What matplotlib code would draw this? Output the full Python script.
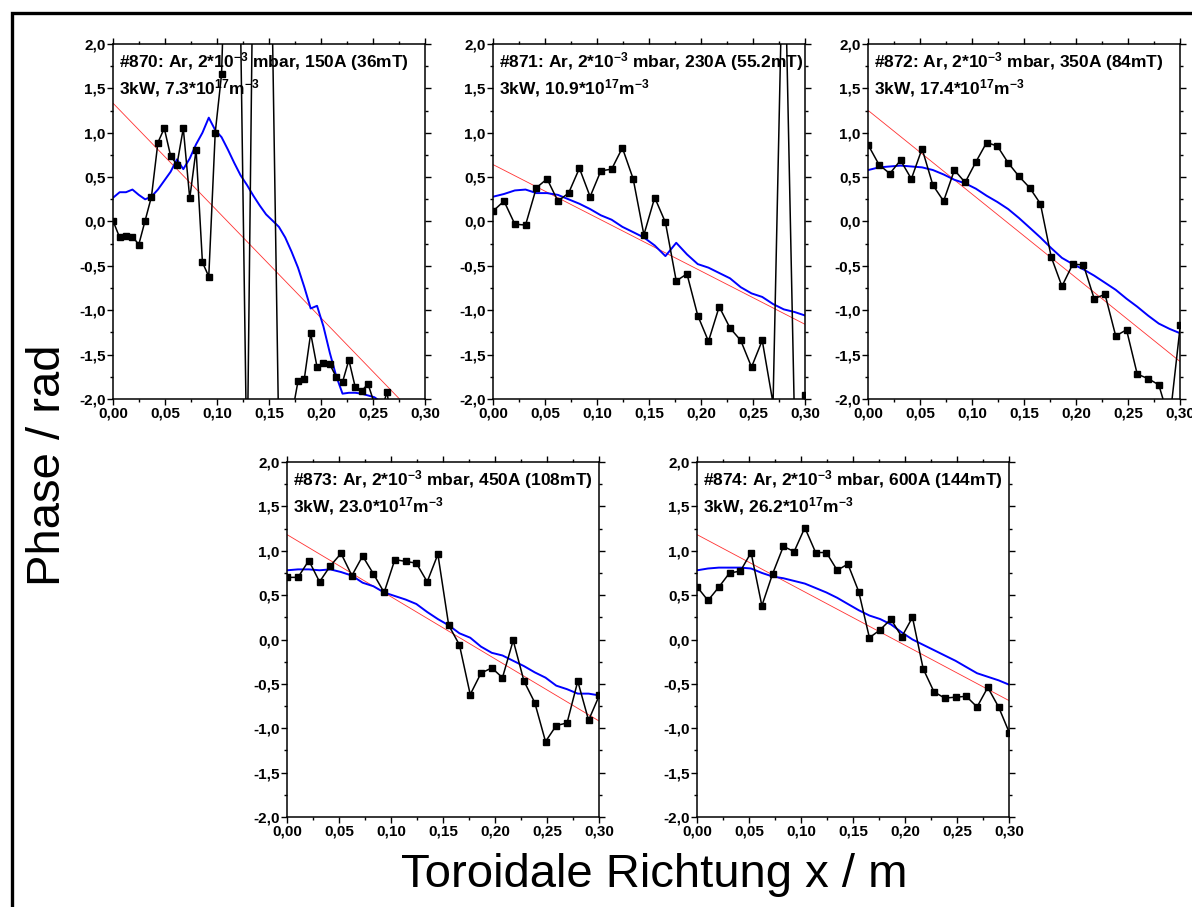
import matplotlib
matplotlib.use("Agg")
import matplotlib.pyplot as plt
from matplotlib.patches import Rectangle
from matplotlib.ticker import MultipleLocator, FuncFormatter

plt.rcParams['font.family'] = ['Liberation Sans', 'DejaVu Sans']
plt.rcParams['mathtext.fontset'] = 'custom'
plt.rcParams['mathtext.rm'] = 'Liberation Sans:bold'
plt.rcParams['mathtext.it'] = 'Liberation Sans:bold'
plt.rcParams['mathtext.bf'] = 'Liberation Sans:bold'

# x positions of the measurement channels
x30 = [0.0, 0.0103, 0.0207, 0.0310, 0.0414, 0.0517, 0.0621, 0.0724, 0.0828, 0.0931,
       0.1034, 0.1138, 0.1241, 0.1345, 0.1448, 0.1552, 0.1655, 0.1759, 0.1862, 0.1966,
       0.2069, 0.2172, 0.2276, 0.2379, 0.2483, 0.2586, 0.2690, 0.2793, 0.2897, 0.3000]
x50 = [0.0, 0.0061, 0.0122, 0.0184, 0.0245, 0.0306, 0.0367, 0.0429, 0.0490, 0.0551,
       0.0612, 0.0673, 0.0735, 0.0796, 0.0857, 0.0918, 0.0980, 0.1041, 0.1102, 0.1163,
       0.1224, 0.1286, 0.1347, 0.1408, 0.1469, 0.1531, 0.1592, 0.1653, 0.1714, 0.1776,
       0.1837, 0.1898, 0.1959, 0.2020, 0.2082, 0.2143, 0.2204, 0.2265, 0.2327, 0.2388,
       0.2449, 0.2510, 0.2571, 0.2633, 0.2694, 0.2755, 0.2816, 0.2878, 0.2939, 0.3000]

# shot 870 (50 channels)
phase_870 = [0.00, -0.18, -0.16, -0.17, -0.26, 0.01, 0.28, 0.89, 1.05, 0.74,
             0.64, 1.05, 0.26, 0.81, -0.46, -0.62, 1.00, 1.66, 4.00, 3.50,
             2.20, -2.90, 3.40, 3.00, 2.60, 2.10, -2.50, -3.00, -2.20, -1.80,
             -1.77, -1.26, -1.64, -1.59, -1.61, -1.75, -1.81, -1.56, -1.87, -1.91,
             -1.83, -2.05, -2.15, -1.92, -2.50, -2.60, -2.45, -2.70, -2.55, -2.65]
smooth_870 = [0.27, 0.33, 0.33, 0.36, 0.30, 0.25, 0.28, 0.36, 0.46, 0.56,
              0.70, 0.59, 0.71, 0.87, 1.00, 1.17, 1.03, 0.95, 0.81, 0.66,
              0.52, 0.41, 0.29, 0.18, 0.08, 0.01, -0.06, -0.18, -0.34, -0.52,
              -0.74, -0.98, -0.95, -1.18, -1.48, -1.74, -1.94, -1.93, -1.93, -1.94,
              -1.96, -1.98, -2.03, -2.08, -2.14, -2.20, -2.26, -2.32, -2.38, -2.44]
fit_870 = [1.33, -2.30]

phase_871 = [0.12, 0.23, -0.03, -0.04, 0.38, 0.48, 0.23, 0.32, 0.60, 0.28,
             0.57, 0.59, 0.83, 0.48, -0.15, 0.27, -0.01, -0.67, -0.59, -1.06,
             -1.35, -0.96, -1.20, -1.34, -1.64, -1.34, -2.05, 3.60, -2.30, -1.95]
smooth_871 = [0.28, 0.31, 0.35, 0.36, 0.32, 0.32, 0.30, 0.25, 0.20, 0.14,
              0.07, 0.02, -0.06, -0.12, -0.18, -0.27, -0.39, -0.24, -0.37, -0.48,
              -0.52, -0.58, -0.64, -0.74, -0.81, -0.85, -0.93, -0.99, -1.02, -1.06]
fit_871 = [0.64, -1.16]

phase_872 = [0.86, 0.64, 0.54, 0.69, 0.48, 0.82, 0.41, 0.23, 0.58, 0.44,
             0.67, 0.89, 0.85, 0.66, 0.51, 0.38, 0.20, -0.40, -0.73, -0.48,
             -0.49, -0.87, -0.82, -1.29, -1.22, -1.72, -1.77, -1.84, -2.25, -1.17]
smooth_872 = [0.58, 0.61, 0.62, 0.63, 0.62, 0.61, 0.58, 0.53, 0.47, 0.43,
              0.37, 0.29, 0.22, 0.14, 0.04, -0.07, -0.18, -0.30, -0.41, -0.48,
              -0.54, -0.61, -0.69, -0.77, -0.87, -0.96, -1.06, -1.15, -1.21, -1.26]
fit_872 = [1.25, -1.58]

phase_873 = [0.70, 0.70, 0.89, 0.65, 0.83, 0.97, 0.72, 0.94, 0.74, 0.53,
             0.90, 0.88, 0.86, 0.65, 0.96, 0.16, -0.06, -0.62, -0.38, -0.32,
             -0.43, -0.01, -0.47, -0.71, -1.15, -0.97, -0.94, -0.47, -0.91, -0.63]
smooth_873 = [0.78, 0.79, 0.79, 0.78, 0.79, 0.76, 0.72, 0.64, 0.60, 0.53,
              0.49, 0.45, 0.40, 0.31, 0.23, 0.16, 0.07, 0.02, -0.08, -0.15,
              -0.18, -0.24, -0.30, -0.37, -0.43, -0.52, -0.56, -0.61, -0.61, -0.63]
fit_873 = [1.18, -0.92]

phase_874 = [0.59, 0.44, 0.59, 0.75, 0.77, 0.98, 0.38, 0.74, 1.05, 0.99,
             1.26, 0.98, 0.98, 0.78, 0.85, 0.54, 0.02, 0.11, 0.23, 0.03,
             0.25, -0.33, -0.59, -0.66, -0.65, -0.64, -0.76, -0.54, -0.76, -1.05]
smooth_874 = [0.78, 0.80, 0.81, 0.81, 0.81, 0.80, 0.75, 0.71, 0.69, 0.66,
              0.63, 0.58, 0.53, 0.47, 0.40, 0.33, 0.27, 0.23, 0.17, 0.08,
              0.00, -0.06, -0.12, -0.18, -0.24, -0.31, -0.38, -0.42, -0.46, -0.51]
fit_874 = [1.18, -0.69]

fit_x = [0.0, 0.30]

titles = [
    (r"#870: Ar, 2*10$^{-3}$ mbar, 150A (36mT)", r"3kW, 7.3*10$^{17}$m$^{-3}$"),
    (r"#871: Ar, 2*10$^{-3}$ mbar, 230A (55.2mT)", r"3kW, 10.9*10$^{17}$m$^{-3}$"),
    (r"#872: Ar, 2*10$^{-3}$ mbar, 350A (84mT)", r"3kW, 17.4*10$^{17}$m$^{-3}$"),
    (r"#873: Ar, 2*10$^{-3}$ mbar, 450A (108mT)", r"3kW, 23.0*10$^{17}$m$^{-3}$"),
    (r"#874: Ar, 2*10$^{-3}$ mbar, 600A (144mT)", r"3kW, 26.2*10$^{17}$m$^{-3}$"),
]
panels = [
    (x50, phase_870, smooth_870, fit_870),
    (x30, phase_871, smooth_871, fit_871),
    (x30, phase_872, smooth_872, fit_872),
    (x30, phase_873, smooth_873, fit_873),
    (x30, phase_874, smooth_874, fit_874),
]

W, H = 1192, 907
fig = plt.figure(figsize=(W / 100, H / 100), dpi=100)

# axes boxes in pixels: left, top
boxes = [(113.3, 44), (493.3, 44), (868.3, 44), (287.3, 462), (697.3, 462)]
aw, ah = 312, 355

comma2 = FuncFormatter(lambda v, p: f"{v:.2f}".replace(".", ","))
comma1 = FuncFormatter(lambda v, p: f"{v:.1f}".replace(".", ","))

for (left, top), (xs, ph, sm, fit), (t1, t2) in zip(boxes, panels, titles):
    ax = fig.add_axes([left / W, 1 - (top + ah) / H, aw / W, ah / H])
    ax.plot(fit_x, fit, color="#ff3030", lw=0.6)
    ax.plot(xs, sm, color="#0000ff", lw=1.4)
    ax.plot(xs, ph, color="black", lw=1.1, marker="s", ms=4.8)
    ax.set_xlim(0, 0.30)
    ax.set_ylim(-2.0, 2.0)
    ax.xaxis.set_major_locator(MultipleLocator(0.05))
    ax.xaxis.set_minor_locator(MultipleLocator(0.025))
    ax.yaxis.set_major_locator(MultipleLocator(0.5))
    ax.yaxis.set_minor_locator(MultipleLocator(0.25))
    ax.xaxis.set_major_formatter(comma2)
    ax.yaxis.set_major_formatter(comma1)
    ax.tick_params(which="both", direction="out", top=True, right=True, width=1.0,
                   labelsize=11, pad=1.5)
    ax.tick_params(which="major", length=4)
    ax.tick_params(which="minor", length=2.5)
    for lab in ax.get_xticklabels() + ax.get_yticklabels():
        lab.set_fontweight("bold")
    for sp in ax.spines.values():
        sp.set_linewidth(1.1)
    ax.text(0.018, 0.95, t1, transform=ax.transAxes, fontsize=12.5, fontweight="bold",
            va="center", ha="left")
    ax.text(0.018, 0.875, t2, transform=ax.transAxes, fontsize=12.5, fontweight="bold",
            va="center", ha="left")

fig.text(48 / W, 1 - 465 / H, "Phase / rad", rotation=90, fontsize=34,
         ha="center", va="center")
fig.text(654 / W, 1 - 875 / H, "Toroidale Richtung x / m", fontsize=34,
         ha="center", va="center")

# outer frame (only top and left edges fall inside the image)
fig.patches.append(Rectangle((12 / W, -0.1), 1.2, 1 - 13 / H + 0.1, fill=False,
                             lw=2.4, edgecolor="black", transform=fig.transFigure))

fig.savefig("out.png", dpi=100)
